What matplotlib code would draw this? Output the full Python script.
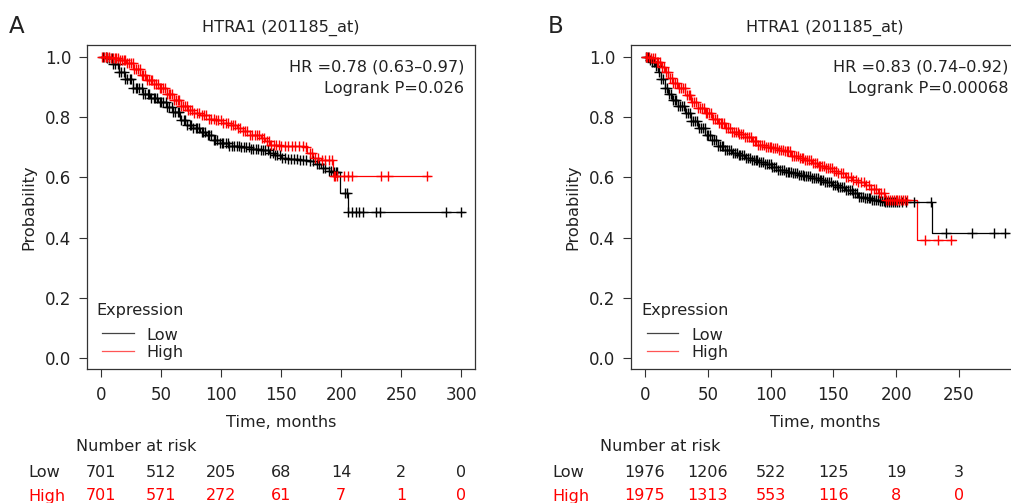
import numpy as np
import matplotlib
matplotlib.use("Agg")
import matplotlib.pyplot as plt
from matplotlib.transforms import blended_transform_factory

plt.rcParams['font.family'] = ['DejaVu Sans']

# ---------------- data ----------------
title = "HTRA1 (201185_at)"
risk_labels = ["Low", "High"]

# Panel A
A_low_t = [0, 5, 10, 15, 20, 27, 35, 41, 48, 55, 60, 66, 72, 77, 83, 88, 94, 99, 106, 116,
           125, 133, 140, 144, 150, 155, 165, 172, 178, 183, 190, 194, 199, 206, 302]
A_low_s = [1.0, 0.995, 0.975, 0.95, 0.925, 0.897, 0.875, 0.862, 0.85, 0.834, 0.815, 0.79, 0.775,
           0.763, 0.75, 0.74, 0.725, 0.713, 0.705, 0.70, 0.695, 0.69, 0.68, 0.674, 0.665, 0.66,
           0.658, 0.655, 0.645, 0.63, 0.622, 0.619, 0.547, 0.486, 0.486]
A_low_cens = [2, 4, 5.5, 7, 9, 10.5, 12, 14, 15.5, 17, 19, 20.5, 22, 24, 25.5, 27, 29, 30.5, 32,
              34, 35.5, 37, 39, 40.5, 42, 44, 45.5, 47, 49, 50.5, 52, 54, 55.5, 57, 59, 60.5,
              62, 64, 65.5, 67, 69, 70.5, 72, 74, 75.5, 77, 79, 80.5, 82, 84, 85.5, 87, 89,
              90.5, 92, 94, 95.5, 97, 99, 100.5, 102, 104, 105.5, 107, 109, 111, 113, 115, 117,
              119, 121, 123, 125, 127, 129, 131, 133, 135, 137, 139, 141, 143, 145, 147, 149,
              151, 153, 156, 158, 161, 163, 166, 168, 171, 174, 177, 180, 182, 185, 187, 190,
              192, 194, 195.5, 197, 203, 205, 206, 209, 212, 215, 218, 229, 232, 287, 299.5]
A_high_t = [0, 8, 15, 21, 27, 33, 38, 44, 49, 55, 61, 67, 72, 78, 83, 90, 96, 102, 108, 113,
            118, 124, 133, 137, 141, 150, 169, 172, 177, 183, 193, 274]
A_high_s = [1.0, 0.995, 0.99, 0.979, 0.96, 0.94, 0.923, 0.91, 0.895, 0.875, 0.856, 0.838, 0.823,
            0.814, 0.807, 0.795, 0.79, 0.779, 0.772, 0.763, 0.752, 0.74, 0.73, 0.72, 0.707,
            0.705, 0.70, 0.68, 0.663, 0.657, 0.605, 0.605]
A_high_cens = [1, 2.5, 4, 5.5, 7, 8.5, 10, 11.5, 13, 14.5, 16, 17.5, 19, 20.5, 22, 23.5, 25,
               26.5, 28, 29.5, 31, 32.5, 34, 35.5, 37, 38.5, 40, 41.5, 43, 44.5, 46, 47.5, 49,
               50.5, 52, 53.5, 55, 56.5, 58, 59.5, 61, 62.5, 64, 65.5, 67, 68.5, 70, 71.5, 73,
               74.5, 76, 78, 80, 82, 84, 86, 88, 90, 92, 94, 96, 98, 100, 102, 104, 106, 108,
               110, 112, 114, 116, 118, 120, 122, 124, 126, 128, 130, 132, 134, 136, 138, 140,
               142, 144, 146, 148, 150, 153, 156, 159, 162, 165, 168, 171, 174, 176, 178, 181,
               184, 187, 190, 192.5, 194, 195, 196.7, 202, 206, 209, 233, 239, 271.7]
A_xticks = [0, 50, 100, 150, 200, 250, 300]
A_risk_low = [701, 512, 205, 68, 14, 2, 0]
A_risk_high = [701, 571, 272, 61, 7, 1, 0]
A_hr = "HR =0.78 (0.63\u20130.97)"
A_p = "Logrank P=0.026"

# Panel B
B_low_t = [0, 3, 5.3, 8, 10.6, 13, 15.9, 18.5, 21.2, 26, 31.8, 37, 42.5, 48, 53, 58, 63.7, 69,
           74, 80, 85, 90, 95.5, 101, 106, 112, 117, 122, 127, 133, 138, 143, 149, 154, 159,
           165, 170, 175, 180, 186, 191, 228.7, 289]
B_low_s = [1.0, 0.99, 0.983, 0.97, 0.95, 0.925, 0.895, 0.875, 0.857, 0.835, 0.812, 0.787, 0.763,
           0.742, 0.724, 0.705, 0.69, 0.681, 0.674, 0.665, 0.658, 0.65, 0.643, 0.633, 0.624,
           0.618, 0.613, 0.608, 0.604, 0.597, 0.591, 0.583, 0.575, 0.567, 0.558, 0.547, 0.536,
           0.53, 0.525, 0.52, 0.517, 0.414, 0.414]
B_low_cens = [1, 2.5, 4, 5.5, 7, 8.5, 10, 11.5, 13, 14.5, 16, 17.5, 19, 20.5, 22, 23.5, 25,
              26.5, 28, 29.5, 31, 32.5, 34, 35.5, 37, 38.5, 40, 41.5, 43, 44.5, 46, 47.5, 49,
              50.5, 52, 53.5, 55, 56.5, 58, 59.5, 61, 62.5, 64, 65.5, 67, 68.5, 70, 71.5, 73,
              74.5, 76, 77.5, 79, 80.5, 82, 83.5, 85, 86.5, 88, 89.5, 91, 92.5, 94, 95.5, 97,
              98.5, 100, 101.5, 103, 104.5, 106, 107.5, 109, 110.5, 112, 113.5, 115, 116.5, 118,
              119.5, 121, 122.5, 124, 125.5, 127, 128.5, 130, 131.5, 133, 134.5, 136, 137.5,
              139, 140.5, 142, 143.5, 145, 146.5, 148, 149.5, 151, 152.5, 154, 155.5, 157,
              158.5, 160, 161.5, 163, 164.5, 166, 167.5, 169, 170.5, 172, 173.5, 175, 176.5,
              178, 179.5, 181, 182.5, 184, 185.5, 187, 188.5, 190, 191.5, 193, 194.5, 196,
              197.5, 199, 200.5, 202, 205, 208, 214, 228, 240, 260, 277.5, 287]
B_high_t = [0, 4, 8, 13, 16, 18.6, 22, 26.5, 32, 37, 42, 47.8, 53, 58.4, 64, 69, 74, 79.6, 85,
            90, 95, 100.8, 106, 111, 116, 122, 127, 132.7, 138, 143, 149, 154, 159, 164.5, 170,
            175, 180, 185.7, 191, 216.8, 247.6]
B_high_s = [1.0, 0.995, 0.983, 0.967, 0.948, 0.928, 0.912, 0.895, 0.873, 0.851, 0.83, 0.812,
            0.795, 0.779, 0.765, 0.751, 0.743, 0.735, 0.72, 0.707, 0.70, 0.696, 0.692, 0.687,
            0.672, 0.665, 0.657, 0.647, 0.638, 0.63, 0.622, 0.613, 0.602, 0.591, 0.583, 0.575,
            0.562, 0.547, 0.525, 0.392, 0.392]
B_high_cens = [0.5, 1.8, 3.2, 4.7, 6.2, 7.7, 9.2, 10.7, 12.2, 13.7, 15.2, 16.7, 18.2, 19.7,
               21.2, 22.7, 24.2, 25.7, 27.2, 28.7, 30.2, 31.7, 33.2, 34.7, 36.2, 37.7, 39.2,
               40.7, 42.2, 43.7, 45.2, 46.7, 48.2, 49.7, 51.2, 52.7, 54.2, 55.7, 57.2, 58.7,
               60.2, 61.7, 63.2, 64.7, 66.2, 67.7, 69.2, 70.7, 72.2, 73.7, 75.2, 76.7, 78.2,
               79.7, 81.2, 82.7, 84.2, 85.7, 87.2, 88.7, 90.2, 91.7, 93.2, 94.7, 96.2, 97.7,
               99.2, 100.7, 102.2, 103.7, 105.2, 106.7, 108.2, 109.7, 111.2, 112.7, 114.2,
               115.7, 117.2, 118.7, 120.2, 121.7, 123.2, 124.7, 126.2, 127.7, 129.2, 130.7,
               132.2, 133.7, 135.2, 136.7, 138.2, 139.7, 141.2, 142.7, 144.2, 145.7, 147.2,
               148.7, 150.2, 152, 154, 156, 158, 160, 162, 164, 166, 168, 170, 172, 174, 176,
               178, 180, 182, 184, 186, 188, 190, 192, 193.5, 195, 196.5, 198, 199.5, 201,
               202.5, 204, 205.5, 207, 209, 223, 233.5, 244]
B_xticks = [0, 50, 100, 150, 200, 250]
B_risk_low = [1976, 1206, 522, 125, 19, 3]
B_risk_high = [1975, 1313, 553, 116, 8, 0]
B_hr = "HR =0.83 (0.74\u20130.92)"
B_p = "Logrank P=0.00068"

yticks = [0.0, 0.2, 0.4, 0.6, 0.8, 1.0]

# ---------------- figure ----------------
W, H = 1012, 503
fig = plt.figure(figsize=(W / 100, H / 100), dpi=100)

def fx(x):
    return x / W

def fy(y):
    return 1 - y / H

LOW_C = "black"
HIGH_C = "#ff0000"
TXT_C = "#222222"


def km(ax, t, s, cens, color):
    t = np.asarray(t, float)
    s = np.asarray(s, float)
    ax.step(t, s, where="post", color=color, lw=0.9, zorder=2)
    c = np.asarray(cens, float)
    idx = np.searchsorted(t, c, side="right") - 1
    ax.plot(c, s[idx], ls="none", marker="+", ms=6.5, mew=1.0, color=color, zorder=3)


def panel(left_px, right_px, xlim, xticks, low, high, hr, p, risk_low, risk_high,
          letter, letter_x, lowlab_x, nar_x):
    ax = fig.add_axes([fx(left_px), fy(369), (right_px - left_px) / W, (369 - 45) / H])
    km(ax, *low, LOW_C)
    km(ax, *high, HIGH_C)
    ax.set_xlim(*xlim)
    ax.set_ylim(-0.0355, 1.0388)
    ax.set_xticks(xticks)
    ax.set_xticklabels([str(v) for v in xticks])
    ax.set_yticks(yticks)
    ax.set_yticklabels([f"{v:.1f}" for v in yticks])
    for sp in ax.spines.values():
        sp.set_color("#333333")
        sp.set_linewidth(0.9)
    ax.tick_params(axis="both", direction="out", length=5.5, width=0.8, color="#333333",
                   labelsize=12, labelcolor=TXT_C)
    ax.tick_params(axis="x", pad=7)
    ax.tick_params(axis="y", pad=6)
    # HR text
    ax.text(0.972, 1 - (71 - 45) / 324, hr, transform=ax.transAxes, ha="right", va="baseline",
            fontsize=11.6, color=TXT_C)
    ax.text(0.972, 1 - (92.7 - 45) / 324, p, transform=ax.transAxes, ha="right", va="baseline",
            fontsize=11.6, color=TXT_C)
    # legend
    lx = left_px
    fig.text(fx(lx + 9.7), fy(315), "Expression", fontsize=11.6, color=TXT_C, va="baseline")
    fig.add_artist(plt.Line2D([fx(lx + 15.3), fx(lx + 47)], [fy(332.7), fy(332.7)],
                              color="#444444", lw=0.9))
    fig.add_artist(plt.Line2D([fx(lx + 15.3), fx(lx + 47)], [fy(350.7), fy(350.7)],
                              color="#ff5555", lw=0.9))
    fig.text(fx(lx + 59.7), fy(340), risk_labels[0], fontsize=11.6, color=TXT_C, va="baseline")
    fig.text(fx(lx + 59.7), fy(356.7), risk_labels[1], fontsize=11.6, color=TXT_C,
             va="baseline")
    # title & letter
    fig.text(fx((left_px + right_px) / 2), fy(31.7), title, fontsize=11.6, color=TXT_C,
             ha="center", va="baseline")
    fig.text(fx(letter_x), fy(33.3), letter, fontsize=16.5, color=TXT_C, ha="left",
             va="baseline")
    # axis labels
    fig.text(fx(left_px - 58), fy(207), "Probability", rotation=90, fontsize=11.6,
             color=TXT_C, ha="center", va="center")
    fig.text(fx((left_px + right_px) / 2), fy(426.7), "Time, months", fontsize=11.6,
             color=TXT_C, ha="center", va="baseline")
    # number at risk
    fig.text(fx(nar_x), fy(451), "Number at risk", fontsize=11.6, color=TXT_C, va="baseline")
    fig.text(fx(lowlab_x), fy(476.7), risk_labels[0], fontsize=11.6, color=TXT_C,
             va="baseline")
    fig.text(fx(lowlab_x), fy(500.5), risk_labels[1], fontsize=11.6, color="#ff0000",
             va="baseline")
    tr = blended_transform_factory(ax.transData, fig.transFigure)
    for xv, n in zip(xticks, risk_low):
        fig.text(xv, fy(476.7), str(n), transform=tr, fontsize=11.5, color=TXT_C,
                 ha="center", va="baseline")
    for xv, n in zip(xticks, risk_high):
        fig.text(xv, fy(500.5), str(n), transform=tr, fontsize=11.5, color="#ff0000",
                 ha="center", va="baseline")
    return ax


panel(87, 475, (-11.4, 311.4), A_xticks, (A_low_t, A_low_s, A_low_cens),
      (A_high_t, A_high_s, A_high_cens), A_hr, A_p, A_risk_low, A_risk_high,
      "A", 9, 28.3, 76)
panel(631.3, 1019, (-10.9, 297.8), B_xticks, (B_low_t, B_low_s, B_low_cens),
      (B_high_t, B_high_s, B_high_cens), B_hr, B_p, B_risk_low, B_risk_high,
      "B", 548, 552, 600)

fig.savefig("out.png", dpi=100)
